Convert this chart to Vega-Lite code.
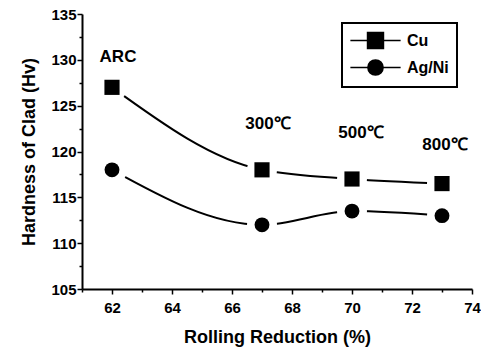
{
  "$schema": "https://vega.github.io/schema/vega-lite/v6.json",
  "width": 390,
  "height": 275,
  "autosize": {"type": "none"},
  "padding": {"left": 82, "top": 14, "right": 9, "bottom": 61},
  "background": "white",
  "config": {
    "view": {"stroke": null},
    "font": "Liberation Sans",
    "legend": {"strokeWidth": 2},
    "axis": {
      "domainColor": "black",
      "domainWidth": 2,
      "tickColor": "black",
      "tickWidth": 1.5,
      "labelColor": "black",
      "labelFont": "Liberation Sans",
      "labelFontWeight": "bold",
      "labelFontSize": 15,
      "titleColor": "black",
      "titleFont": "Liberation Sans",
      "titleFontWeight": "bold",
      "titleFontSize": 18,
      "grid": false,
      "labelFlush": false,
      "labelOverlap": false
    }
  },
  "datasets": {
    "pts": [
      {"reduction": 62, "hardness": 127, "series": "Cu"},
      {"reduction": 67, "hardness": 118, "series": "Cu"},
      {"reduction": 70, "hardness": 117, "series": "Cu"},
      {"reduction": 73, "hardness": 116.5, "series": "Cu"},
      {"reduction": 62, "hardness": 118, "series": "Ag/Ni"},
      {"reduction": 67, "hardness": 112, "series": "Ag/Ni"},
      {"reduction": 70, "hardness": 113.5, "series": "Ag/Ni"},
      {"reduction": 73, "hardness": 113, "series": "Ag/Ni"}
    ],
    "notes": [
      {"reduction": 62.2, "hardness": 130.3, "label": "ARC"},
      {"reduction": 67.2, "hardness": 123.0, "label": "300℃"},
      {"reduction": 70.3, "hardness": 122.0, "label": "500℃"},
      {"reduction": 73.1, "hardness": 120.7, "label": "800℃"}
    ]
  },
  "encoding": {
    "x": {
      "field": "reduction", "type": "quantitative",
      "scale": {"domain": [61, 74], "nice": false, "zero": false},
      "axis": {
        "title": "Rolling Reduction (%)",
        "values": [61, 62, 63, 64, 65, 66, 67, 68, 69, 70, 71, 72, 73, 74],
        "labelExpr": "datum.value % 2 == 0 ? datum.label : ''",
        "tickSize": {"condition": {"test": "datum.value % 2 == 0", "value": 5}, "value": 3},
        "labelPadding": 6,
        "titlePadding": 13
      }
    },
    "y": {
      "field": "hardness", "type": "quantitative",
      "scale": {"domain": [105, 135], "nice": false, "zero": false},
      "axis": {
        "title": "Hardness of Clad (Hv)",
        "values": [105, 107.5, 110, 112.5, 115, 117.5, 120, 122.5, 125, 127.5, 130, 132.5, 135],
        "labelExpr": "datum.value % 5 == 0 ? datum.label : ''",
        "tickSize": {"condition": {"test": "datum.value % 5 == 0", "value": 5}, "value": 3},
        "labelPadding": 1,
        "titlePadding": 12
      }
    }
  },
  "layer": [
    {
      "data": {"name": "pts"},
      "mark": {"type": "line", "interpolate": "monotone", "color": "black", "strokeWidth": 2},
      "encoding": {"detail": {"field": "series"}}
    },
    {
      "data": {"name": "pts"},
      "mark": {"type": "point", "filled": true, "color": "white", "opacity": 1, "size": 900, "shape": "circle"}
    },
    {
      "data": {"name": "pts"},
      "transform": [{"filter": "datum.series == 'Cu'"}],
      "mark": {"type": "point", "filled": true, "color": "black", "opacity": 1, "size": 230, "shape": "square"}
    },
    {
      "data": {"name": "pts"},
      "transform": [{"filter": "datum.series == 'Ag/Ni'"}],
      "mark": {"type": "point", "filled": true, "color": "black", "opacity": 1, "size": 220, "shape": "circle"}
    },
    {
      "data": {"name": "pts"},
      "mark": {"type": "point", "filled": true, "fill": "black", "stroke": "black", "strokeWidth": 2, "opacity": 1, "size": 0},
      "encoding": {
        "shape": {
          "field": "series", "type": "nominal",
          "scale": {
            "domain": ["Cu", "Ag/Ni"],
            "range": ["M-2.9,0H2.9M-0.92,-0.92H0.92V0.92H-0.92Z", "M-2.9,0H2.9M0.88,0A0.88,0.88 0 1,1 -0.88,0A0.88,0.88 0 1,1 0.88,0Z"]
          },
          "legend": {
            "title": null,
            "orient": "none",
            "legendX": 260,
            "legendY": 9,
            "strokeColor": "black",
            "padding": 8,
            "symbolSize": 300,
            "symbolOffset": 16,
            "symbolFillColor": "black",
            "symbolOpacity": 1,
            "labelOffset": 22,
            "rowPadding": 4,
            "labelFont": "Liberation Sans",
            "labelFontWeight": "bold",
            "labelFontSize": 16,
            "labelColor": "black"
          }
        }
      }
    },
    {
      "data": {"name": "notes"},
      "mark": {"type": "text", "font": "Liberation Sans", "fontWeight": "bold", "fontSize": 17, "color": "black", "align": "center", "baseline": "middle"},
      "encoding": {"text": {"field": "label"}}
    }
  ]
}
